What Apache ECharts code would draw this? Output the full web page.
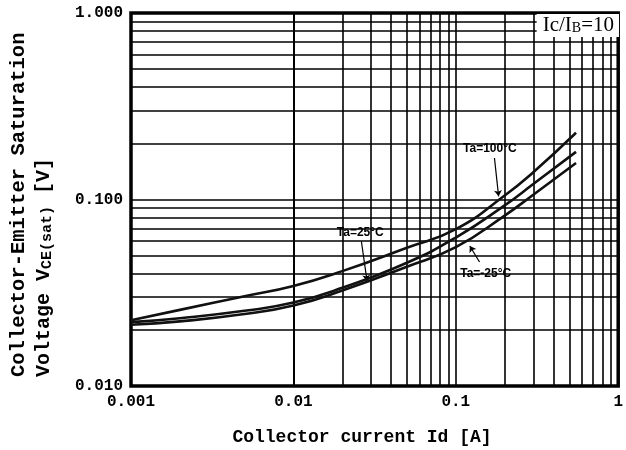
<!DOCTYPE html>
<html lang="en">
<head>
<meta charset="UTF-8">
<title>VCE(sat) - Ic</title>
<style>html,body{margin:0;padding:0;background:#fff;}</style>
</head>
<body>
<div id="main" style="width:626px;height:450px;"></div>
<script src="https://cdn.jsdelivr.net/npm/echarts@6/dist/echarts.min.js"></script>
<script>
    // collector current Ic [A]
    var current = [0.001, 0.002, 0.005, 0.01, 0.02, 0.05, 0.1, 0.2, 0.3, 0.55];
    // VCE(sat) [V] for each ambient temperature
    var vce100 = [0.0225, 0.0256, 0.0303, 0.0344, 0.0413, 0.0551, 0.0693, 0.105, 0.140, 0.228];
    var vce25 = [0.0220, 0.0231, 0.0253, 0.0280, 0.0336, 0.0458, 0.0625, 0.093, 0.121, 0.180];
    var vceM25 = [0.0213, 0.0222, 0.0243, 0.0270, 0.0325, 0.0436, 0.0555, 0.082, 0.106, 0.157];

    var xTickLabels = ['0.001', '0.01', '0.1', '1'];
    var yTickLabels = ['0.010', '0.100', '1.000'];

    // log paper: lines at 2..9 in every decade
    var xDecades = [0.001, 0.01, 0.1];
    var yDecades = [0.01, 0.1];
    var minorSteps = [2, 3, 4, 5, 6, 7, 8, 9];

    function pairs(ys) {
        var out = [];
        for (var i = 0; i < current.length; i++) out.push([current[i], ys[i]]);
        return out;
    }

    var gridLines = [];
    xDecades.forEach(function (d) {
        minorSteps.forEach(function (m) { gridLines.push({xAxis: d * m}); });
    });
    yDecades.forEach(function (d) {
        minorSteps.forEach(function (m) { gridLines.push({yAxis: d * m}); });
    });

    var mono = '"Liberation Mono", "DejaVu Sans Mono", monospace';
    var curveStyle = {color: '#111', width: 2.6};
    var arrowStyle = {color: '#000', width: 1.2, type: 'solid'};

    function tag(x, y, text) {
        return {
            coord: [x, y], value: text,
            label: {show: true, formatter: text, position: 'inside', color: '#000',
                fontFamily: '"Liberation Sans", Arial, sans-serif', fontWeight: 'bold', fontSize: 12}
        };
    }

    var myChart = echarts.init(document.getElementById('main'));

    var option = {
        animation: false,
        backgroundColor: '#fff',
        title: {
            text: 'Ic/I{b|B}=10',
            right: 7, top: 14,
            padding: [1, 5, 1, 6],
            backgroundColor: '#fff',
            textStyle: {
                fontFamily: '"Liberation Serif", serif', fontSize: 21, fontWeight: 'normal', color: '#000',
                rich: {b: {fontFamily: '"Liberation Serif", serif', fontSize: 14, color: '#000', padding: [5, 0, 0, 0]}}
            }
        },
        grid: {
            left: 131, right: 6, top: 13, bottom: 64,
            show: true, borderColor: '#000', borderWidth: 3.5, backgroundColor: 'transparent'
        },
        xAxis: {
            type: 'log', logBase: 10, min: 0.001, max: 1,
            axisLine: {show: false},
            axisTick: {show: false},
            splitLine: {show: true, lineStyle: {color: '#000', width: 1.6}},
            axisLabel: {
                margin: 8, color: '#000', fontFamily: mono, fontSize: 16, fontWeight: 'bold',
                formatter: function (v) { return xTickLabels[Math.round(Math.log10(v)) + 3]; }
            }
        },
        yAxis: {
            type: 'log', logBase: 10, min: 0.01, max: 1,
            axisLine: {show: false},
            axisTick: {show: false},
            splitLine: {show: true, lineStyle: {color: '#000', width: 1.6}},
            axisLabel: {
                margin: 8, color: '#000', fontFamily: mono, fontSize: 16, fontWeight: 'bold',
                formatter: function (v) { return yTickLabels[Math.round(Math.log10(v)) + 2]; }
            }
        },
        graphic: [
            {
                type: 'text', x: 362, y: 437,
                style: {text: 'Collector current Id [A]', font: 'bold 18px ' + mono,
                    align: 'center', verticalAlign: 'middle', textAlign: 'center', textVerticalAlign: 'middle', fill: '#000'}
            },
            {
                type: 'text', x: 19, y: 377, rotation: Math.PI / 2,
                style: {text: 'Collector-Emitter Saturation', font: 'bold 20.5px ' + mono,
                    align: 'left', verticalAlign: 'middle', textAlign: 'left', textVerticalAlign: 'middle', fill: '#000'}
            },
            {
                type: 'text', x: 44, y: 377, rotation: Math.PI / 2,
                style: {text: 'Voltage V{s|CE(sat)} [V]', font: 'bold 20px ' + mono,
                    align: 'left', verticalAlign: 'middle', textAlign: 'left', textVerticalAlign: 'middle', fill: '#000',
                    rich: {s: {font: 'bold 15px ' + mono, fill: '#000', padding: [6, 0, 0, 0]}}}
            }
        ],
        series: [
            {
                name: 'paper', type: 'line', data: [], silent: true,
                markLine: {
                    silent: true, symbol: ['none', 'none'], animation: false,
                    label: {show: false},
                    lineStyle: {color: '#000', width: 1.6, type: 'solid'},
                    data: gridLines
                }
            },
            {
                name: 'Ta=100°C', type: 'line', smooth: 0.5, showSymbol: false,
                data: pairs(vce100), lineStyle: curveStyle, z: 5,
                markLine: {
                    silent: true, symbol: ['none', 'arrow'], symbolSize: 6,
                    label: {show: false}, lineStyle: arrowStyle,
                    data: [[{coord: [0.173, 0.167]}, {coord: [0.1835, 0.104]}]]
                },
                markPoint: {
                    symbol: 'rect', symbolSize: 1, itemStyle: {color: 'rgba(0,0,0,0)'},
                    data: [tag(0.162, 0.187, 'Ta=100°C')]
                }
            },
            {
                name: 'Ta=25°C', type: 'line', smooth: 0.5, showSymbol: false,
                data: pairs(vce25), lineStyle: curveStyle, z: 5,
                markLine: {
                    silent: true, symbol: ['none', 'arrow'], symbolSize: 6,
                    label: {show: false}, lineStyle: arrowStyle,
                    data: [[{coord: [0.0262, 0.0599]}, {coord: [0.0284, 0.0366]}]]
                },
                markPoint: {
                    symbol: 'rect', symbolSize: 1, itemStyle: {color: 'rgba(0,0,0,0)'},
                    data: [tag(0.0258, 0.0661, 'Ta=25°C')]
                }
            },
            {
                name: 'Ta=-25°C', type: 'line', smooth: 0.5, showSymbol: false,
                data: pairs(vceM25), lineStyle: curveStyle, z: 5,
                markLine: {
                    silent: true, symbol: ['none', 'arrow'], symbolSize: 6,
                    label: {show: false}, lineStyle: arrowStyle,
                    data: [[{coord: [0.140, 0.0462]}, {coord: [0.122, 0.0563]}]]
                },
                markPoint: {
                    symbol: 'rect', symbolSize: 1, itemStyle: {color: 'rgba(0,0,0,0)'},
                    data: [tag(0.1527, 0.0399, 'Ta=-25°C')]
                }
            }
        ]
    };

    myChart.setOption(option);
</script>
</body>
</html>
